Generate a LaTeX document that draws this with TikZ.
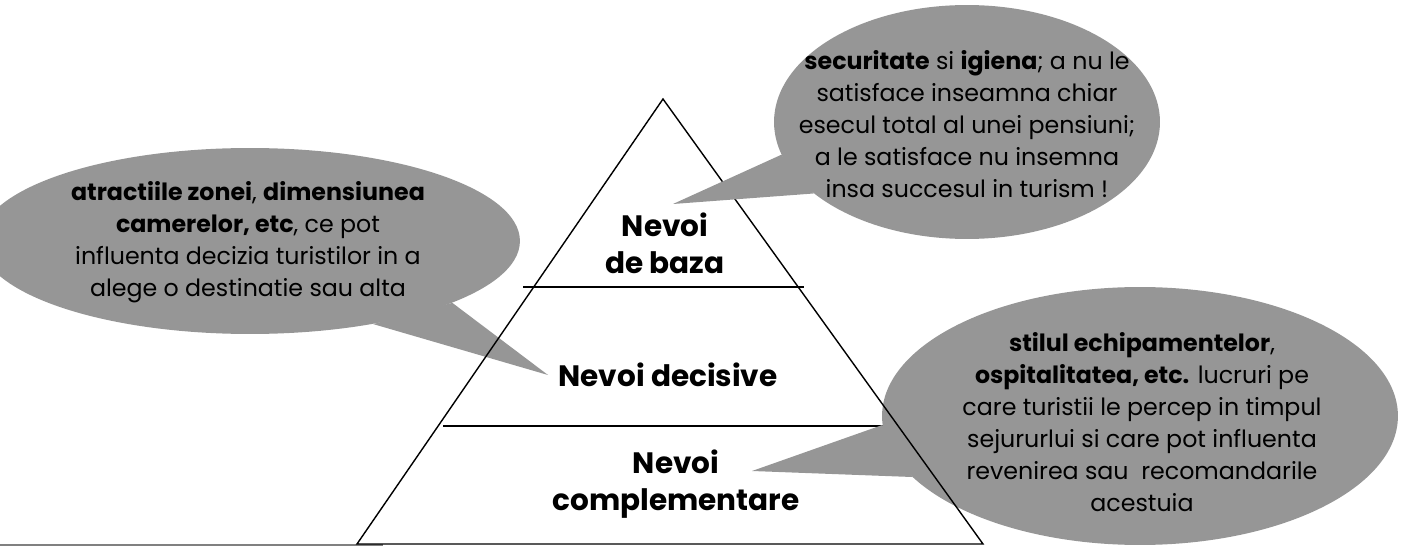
\documentclass[tikz,border=0pt]{standalone}
\usepackage{fontspec}
\setmainfont{Poppins}
\usetikzlibrary{shapes.geometric}

\definecolor{bubblegray}{RGB}{150,150,150}

\tikzset{
  bubble/.style={ellipse, fill=bubblegray, inner sep=0pt},
  tail/.style={fill=bubblegray},
  note/.style={align=center, font=\fontsize{13.5}{18.3}\selectfont},
  level/.style={align=center, font=\fontsize{16.8}{21}\selectfont\bfseries},
  edge/.style={line width=0.8pt}
}

\begin{document}
\begin{tikzpicture}[x=0.02cm, y=-0.02cm]
  \useasboundingbox (0,0) rectangle (1428,547);

  \coordinate (apex) at (663,99);
  \coordinate (baseL) at (357,544);
  \coordinate (baseR) at (983,544);
  \coordinate (tipL) at (548,375);
  \coordinate (tipT) at (673,204);
  \coordinate (tipR) at (752,471);

  \draw[gray, line width=1pt] (0,545) -- (383,545);

  % left bubble
  \node[bubble, minimum width=10.8cm, minimum height=3.72cm] (bubL) at (250,241) {};
  \fill[tail] (bubL.343) -- (tipL) -- (bubL.326) -- cycle;

  \draw[edge] (443,426) -- (898,426);

  % right bubble
  \node[bubble, minimum width=10.32cm, minimum height=5.16cm] (bubR) at (1140,416) {};
  \fill[tail] (bubR.182) -- (tipR) -- (bubR.195) -- cycle;

  % pyramid
  \draw[edge] (apex) -- (baseL) -- (baseR) -- cycle;
  \draw[edge] (523,287) -- (804,287);

  % top bubble
  \node[bubble, minimum width=7.72cm, minimum height=4.68cm] (bubT) at (967,122) {};
  \fill[tail] (bubT.190) -- (tipT) -- (bubT.205) -- cycle;

  \node[note] (txtL) at (248,242) {\textbf{atractiile zonei}, \textbf{dimensiunea}\\
    \textbf{camerelor, etc}, ce pot\\
    influenta decizia turistilor in a\\
    alege o destinatie sau alta};
  \node[note] (txtT) at (967,124) {\textbf{securitate} si \textbf{igiena}; a nu le\\
    satisface inseamna chiar\\
    esecul total al unei pensiuni;\\
    a le satisface nu insemna\\
    insa succesul in turism !};
  \node[note] (txtR) at (1142,422) {\textbf{stilul echipamentelor},\\
    \textbf{ospitalitatea, etc.} lucruri pe\\
    care turistii le percep in timpul\\
    sejururlui si care pot influenta\\
    revenirea sau \ recomandarile\\
    acestuia};

  \node[level] (baza) at (665,243) {Nevoi\\de baza};
  \node[level] (decisive) at (668,375) {Nevoi decisive};
  \node[level] (compl) at (676,484) {Nevoi\\complementare};
\end{tikzpicture}
\end{document}
